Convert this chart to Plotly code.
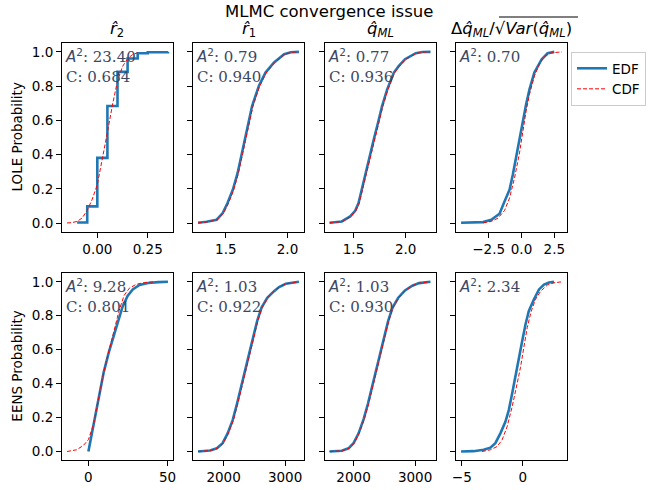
import plotly.graph_objects as go

W, H = 651, 490

# ---------------- data ----------------
# LOLE row
lole_r2_edf_x = [-0.1, -0.05, 0.0, 0.05, 0.1, 0.15, 0.2, 0.25, 0.35]
lole_r2_edf_y = [0.004, 0.098, 0.381, 0.684, 0.883, 0.961, 0.992, 0.998, 1.0]
lole_r2_cdf_x = [-0.15, -0.125, -0.1, -0.075, -0.05, -0.025, 0.0, 0.025, 0.05, 0.075, 0.1, 0.125, 0.15, 0.175, 0.2]
lole_r2_cdf_y = [0.001, 0.003, 0.01, 0.03, 0.075, 0.14, 0.225, 0.37, 0.53, 0.69, 0.83, 0.915, 0.96, 0.985, 0.995]

lole_r1_edf_x = [1.275, 1.344, 1.426, 1.475, 1.514, 1.557, 1.596, 1.626, 1.650, 1.680, 1.713, 1.768, 1.822, 1.891, 1.973, 2.027, 2.093]
lole_r1_edf_y = [0.002, 0.008, 0.020, 0.059, 0.117, 0.195, 0.293, 0.391, 0.488, 0.586, 0.684, 0.801, 0.879, 0.938, 0.986, 0.998, 1.0]
lole_r1_cdf_x = [1.275, 1.35, 1.43, 1.48, 1.52, 1.562, 1.601, 1.631, 1.656, 1.686, 1.719, 1.773, 1.826, 1.894, 1.975, 2.03, 2.09]
lole_r1_cdf_y = [0.001, 0.007, 0.02, 0.057, 0.113, 0.19, 0.288, 0.386, 0.483, 0.581, 0.679, 0.797, 0.876, 0.936, 0.985, 0.997, 1.0]

lole_qml_edf_x = [1.27, 1.387, 1.468, 1.516, 1.548, 1.581, 1.619, 1.655, 1.694, 1.735, 1.774, 1.823, 1.887, 1.935, 1.994, 2.097, 2.161, 2.238]
lole_qml_edf_y = [0.002, 0.010, 0.039, 0.072, 0.117, 0.205, 0.293, 0.391, 0.488, 0.586, 0.684, 0.781, 0.879, 0.918, 0.957, 0.992, 0.999, 1.0]
lole_qml_cdf_x = [1.27, 1.39, 1.47, 1.52, 1.553, 1.587, 1.625, 1.661, 1.70, 1.741, 1.78, 1.829, 1.892, 1.94, 1.998, 2.1, 2.165, 2.235]
lole_qml_cdf_y = [0.001, 0.009, 0.037, 0.07, 0.113, 0.2, 0.288, 0.386, 0.483, 0.581, 0.679, 0.777, 0.876, 0.916, 0.955, 0.991, 0.998, 1.0]

lole_dq_edf_x = [-4.6, -2.93, -2.30, -1.67, -1.29, -0.91, -0.66, -0.40, -0.15, 0.10, 0.35, 0.61, 0.98, 1.54, 1.99, 2.50]
lole_dq_edf_y = [0.002, 0.006, 0.020, 0.055, 0.127, 0.195, 0.283, 0.391, 0.498, 0.586, 0.693, 0.781, 0.879, 0.957, 0.992, 1.0]
lole_dq_cdf_x = [-2.93, -2.30, -1.79, -1.29, -0.91, -0.53, -0.15, 0.10, 0.35, 0.61, 0.98, 1.36, 1.74, 2.25, 3.08]
lole_dq_cdf_y = [0.002, 0.010, 0.029, 0.074, 0.146, 0.264, 0.410, 0.537, 0.654, 0.752, 0.859, 0.928, 0.973, 0.994, 1.0]

# EENS row
eens_r2_edf_x = [0.0, 3.23, 6.47, 9.70, 12.93, 16.16, 18.75, 21.55, 24.78, 28.02, 32.33, 37.72, 44.18, 50.3]
eens_r2_edf_y = [0.0, 0.156, 0.312, 0.468, 0.585, 0.682, 0.770, 0.852, 0.916, 0.955, 0.981, 0.993, 0.998, 1.0]
eens_r2_cdf_x = [-13.5, -7.54, -3.23, 0.0, 3.23, 6.47, 9.70, 12.93, 16.16, 19.4, 22.6, 25.9, 30.2, 35.6, 42.0]
eens_r2_cdf_y = [0.0, 0.01, 0.035, 0.07, 0.16, 0.31, 0.468, 0.59, 0.711, 0.83, 0.92, 0.962, 0.985, 0.996, 1.0]

eens_r1_edf_x = [1585, 1781, 1891, 1984, 2066, 2148, 2219, 2279, 2350, 2415, 2481, 2546, 2617, 2710, 2820, 2902, 3011, 3225]
eens_r1_edf_y = [0.0, 0.006, 0.019, 0.049, 0.107, 0.185, 0.283, 0.380, 0.478, 0.575, 0.672, 0.770, 0.848, 0.906, 0.945, 0.969, 0.988, 1.0]
eens_r1_cdf_x = [1585, 1790, 1900, 1995, 2077, 2160, 2231, 2291, 2362, 2427, 2492, 2557, 2627, 2718, 2826, 2906, 3013, 3215]
eens_r1_cdf_y = [0.0, 0.006, 0.019, 0.049, 0.107, 0.185, 0.283, 0.380, 0.478, 0.575, 0.672, 0.770, 0.848, 0.906, 0.945, 0.969, 0.988, 1.0]

eens_qml_edf_x = [1610, 1809, 1918, 2000, 2082, 2164, 2235, 2301, 2366, 2432, 2497, 2563, 2634, 2727, 2836, 2956, 3065, 3250]
eens_qml_edf_y = [0.0, 0.004, 0.019, 0.049, 0.107, 0.191, 0.283, 0.380, 0.478, 0.575, 0.672, 0.770, 0.848, 0.906, 0.949, 0.977, 0.992, 1.0]
eens_qml_cdf_x = [1610, 1818, 1928, 2010, 2092, 2175, 2246, 2312, 2377, 2442, 2507, 2572, 2642, 2733, 2840, 2958, 3066, 3240]
eens_qml_cdf_y = [0.0, 0.004, 0.019, 0.049, 0.107, 0.191, 0.283, 0.380, 0.478, 0.575, 0.672, 0.770, 0.848, 0.906, 0.949, 0.977, 0.992, 1.0]

eens_dq_edf_x = [-5.06, -4.04, -3.21, -2.66, -2.25, -1.84, -1.43, -1.15, -0.88, -0.60, -0.33, -0.05, 0.22, 0.49, 0.91, 1.32, 1.73, 2.14, 2.55]
eens_dq_edf_y = [0.0, 0.002, 0.010, 0.023, 0.049, 0.107, 0.175, 0.244, 0.341, 0.439, 0.546, 0.653, 0.750, 0.828, 0.897, 0.955, 0.984, 0.996, 1.0]
eens_dq_cdf_x = [-3.35, -2.66, -2.12, -1.70, -1.29, -0.88, -0.47, -0.19, 0.08, 0.36, 0.69, 1.04, 1.46, 2.01, 2.55, 3.2]
eens_dq_cdf_y = [0.0, 0.010, 0.029, 0.068, 0.146, 0.263, 0.400, 0.497, 0.614, 0.731, 0.828, 0.897, 0.945, 0.981, 0.994, 1.0]

# statistics text
a2_values = ["23.40", "0.79", "0.77", "0.70", "9.28", "1.03", "1.03", "2.34"]
c_values = ["0.684", "0.940", "0.936", None, "0.801", "0.922", "0.930", None]

# tick labels
x_tickvals = [[0, 0.25], [1.5, 2.0], [1.5, 2.0], [-2.5, 0, 2.5],
              [0, 50], [2000, 3000], [2000, 3000], [-5, 0]]
x_ticktext = [["0.00", "0.25"], ["1.5", "2.0"], ["1.5", "2.0"], ["\u22122.5", "0.0", "2.5"],
              ["0", "50"], ["2000", "3000"], ["2000", "3000"], ["\u22125", "0"]]
y_tickvals = [0.0, 0.2, 0.4, 0.6, 0.8, 1.0]
y_ticktext = ["0.0", "0.2", "0.4", "0.6", "0.8", "1.0"]

col_titles = ["<i>r\u0302</i><sub>2</sub>", "<i>r\u0302</i><sub>1</sub>",
              "<i>q\u0302</i><sub><i>ML</i></sub>",
              "\u0394<i>q\u0302</i><sub><i>ML</i></sub>/\u221a<i>Var</i>(<i>q\u0302</i><sub><i>ML</i></sub>)"]
row_labels = ["LOLE Probability", "EENS Probability"]

panels = [
    (lole_r2_edf_x, lole_r2_edf_y, lole_r2_cdf_x, lole_r2_cdf_y, "hv"),
    (lole_r1_edf_x, lole_r1_edf_y, lole_r1_cdf_x, lole_r1_cdf_y, "linear"),
    (lole_qml_edf_x, lole_qml_edf_y, lole_qml_cdf_x, lole_qml_cdf_y, "linear"),
    (lole_dq_edf_x, lole_dq_edf_y, lole_dq_cdf_x, lole_dq_cdf_y, "linear"),
    (eens_r2_edf_x, eens_r2_edf_y, eens_r2_cdf_x, eens_r2_cdf_y, "linear"),
    (eens_r1_edf_x, eens_r1_edf_y, eens_r1_cdf_x, eens_r1_cdf_y, "linear"),
    (eens_qml_edf_x, eens_qml_edf_y, eens_qml_cdf_x, eens_qml_cdf_y, "linear"),
    (eens_dq_edf_x, eens_dq_edf_y, eens_dq_cdf_x, eens_dq_cdf_y, "linear"),
]

# ---------------- layout geometry (pixels) ----------------
col_px = [(62, 173), (193, 304), (324.5, 435.5), (456, 567)]
row_px = [(43.3, 231.7), (273.3, 460)]

def px_x(p):
    return p / W

def px_y(p):
    return 1 - p / H

FONT = "DejaVu Sans"
SERIF = "DejaVu Serif"
EDF_COLOR = "#1f77b4"
CDF_COLOR = "red"
TXT_COLOR = "#3b4863"

fig = go.Figure()
layout = dict(
    width=W, height=H,
    margin=dict(l=0, r=0, t=0, b=0, autoexpand=False),
    paper_bgcolor="white", plot_bgcolor="white",
    font=dict(family=FONT, size=13.5, color="black"),
    showlegend=True,
    legend=dict(x=px_x(571), y=px_y(52), xanchor="left", yanchor="top",
                bordercolor="#cccccc", borderwidth=1, bgcolor="white",
                font=dict(family=FONT, size=13.5), tracegroupgap=0),
)
annotations = []

for k, (ex, ey, cx, cy, shape) in enumerate(panels):
    r, c = divmod(k, 4)
    n = k + 1
    xa = "x" if n == 1 else f"x{n}"
    ya = "y" if n == 1 else f"y{n}"
    fig.add_trace(go.Scatter(x=ex, y=ey, mode="lines", line=dict(color=EDF_COLOR, width=2.6, shape=shape),
                             name="EDF", legendgroup="EDF", showlegend=(k == 0), xaxis=xa, yaxis=ya))
    fig.add_trace(go.Scatter(x=cx, y=cy, mode="lines", line=dict(color=CDF_COLOR, width=1, dash="4px,2px"),
                             name="CDF", legendgroup="CDF", showlegend=(k == 0), xaxis=xa, yaxis=ya))
    lo = min(min(ex), min(cx))
    hi = max(max(ex), max(cx))
    pad = 0.05 * (hi - lo)
    x0, x1 = col_px[c]
    y0, y1 = row_px[r]
    layout["xaxis" if n == 1 else f"xaxis{n}"] = dict(
        domain=[px_x(x0), px_x(x1)], anchor=ya, range=[lo - pad, hi + pad], automargin=False,
        showgrid=False, zeroline=False, showline=True, linecolor="black", linewidth=1, mirror=True,
        ticks="outside", ticklen=5, tickwidth=1, tickcolor="black",
        tickvals=x_tickvals[k], ticktext=x_ticktext[k], tickfont=dict(size=13.5))
    layout["yaxis" if n == 1 else f"yaxis{n}"] = dict(
        domain=[px_y(y1), px_y(y0)], anchor=xa, range=[-0.05, 1.05], automargin=False,
        showgrid=False, zeroline=False, showline=True, linecolor="black", linewidth=1, mirror=True,
        ticks="outside", ticklen=5, tickwidth=1, tickcolor="black",
        tickvals=y_tickvals, ticktext=y_ticktext,
        showticklabels=(c == 0), tickfont=dict(size=13.5))
    txt = "<span style='font-family:DejaVu Sans'><i>A</i><sup>2</sup></span>: " + a2_values[k]
    if c_values[k] is not None:
        txt += "<br>C: " + c_values[k]
    annotations.append(dict(text=txt, xref="paper", yref="paper",
                            x=px_x(x0 + 1), y=px_y(y0 + 0.5), xanchor="left", yanchor="top",
                            align="left", showarrow=False,
                            font=dict(family=SERIF, size=15, color=TXT_COLOR)))

for c, t in enumerate(col_titles):
    x0, x1 = col_px[c]
    annotations.append(dict(text=t, xref="paper", yref="paper", x=px_x((x0 + x1) / 2), y=px_y(29),
                            xanchor="center", yanchor="middle", showarrow=False,
                            font=dict(family=FONT, size=16.5)))

for r, t in enumerate(row_labels):
    y0, y1 = row_px[r]
    annotations.append(dict(text=t, xref="paper", yref="paper", x=px_x(17), y=px_y((y0 + y1) / 2),
                            xanchor="center", yanchor="middle", textangle=-90, showarrow=False,
                            font=dict(family=FONT, size=13.5)))

annotations.append(dict(text="MLMC convergence issue", xref="paper", yref="paper",
                        x=px_x(329), y=px_y(12), xanchor="center", yanchor="middle", showarrow=False,
                        font=dict(family=FONT, size=16.5)))

layout["annotations"] = annotations
# overline of the square root in the last column title
layout["shapes"] = [dict(type="line", xref="paper", yref="paper",
                         x0=px_x(499), x1=px_x(578), y0=px_y(17), y1=px_y(17),
                         line=dict(color="black", width=1.2))]
fig.update_layout(**layout)
fig.write_html("out.html", config={"displayModeBar": False},
               post_script="document.body.style.margin='0';")
